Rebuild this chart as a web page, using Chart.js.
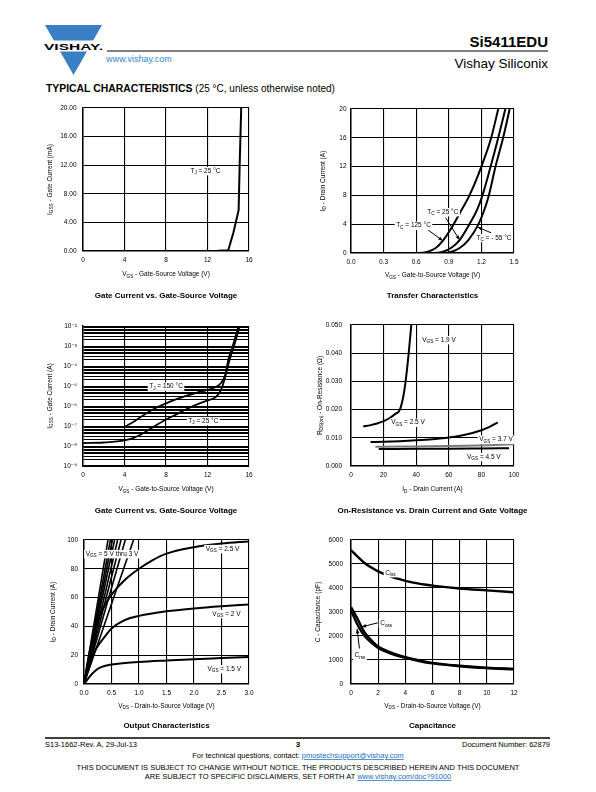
<!DOCTYPE html>
<html><head><meta charset="utf-8">
<script src="https://cdn.jsdelivr.net/npm/chart.js@4.4.0/dist/chart.umd.min.js"></script>
<style>
html,body{margin:0;padding:0;background:#fff}
#page{position:relative;width:596px;height:792px;overflow:hidden;background:#fff}
canvas{position:absolute}
#hdr{position:absolute;left:0;top:0}
</style></head><body><div id="page">
<svg id="hdr" width="596" height="792" font-family="'Liberation Sans', Arial, sans-serif">
  <polygon points="45,25 102,25 73.5,75" fill="#3a7fc5"/>
  <rect x="38" y="40.5" width="70" height="11" fill="#fff"/>
  <text x="44" y="49.5" font-weight="bold" font-size="9.8" textLength="59" lengthAdjust="spacingAndGlyphs">VISHAY.</text>
  <line x1="107" y1="51" x2="548" y2="51" stroke="#000" stroke-width="1"/>
  <text x="548" y="47" text-anchor="end" font-weight="bold" font-size="15">Si5411EDU</text>
  <text x="548" y="67.5" text-anchor="end" font-size="13.5">Vishay Siliconix</text>
  <text x="106" y="62" font-size="9" fill="#2e86cf">www.vishay.com</text>
  <text x="46" y="91.5" font-size="10.4" font-weight="bold">TYPICAL CHARACTERISTICS <tspan font-weight="normal" font-size="10">(25 °C, unless otherwise noted)</tspan></text>
  <line x1="45" y1="738" x2="550" y2="738" stroke="#000" stroke-width="1.5"/>
  <text x="45" y="746.5" font-size="7.5">S13-1662-Rev. A, 29-Jul-13</text>
  <text x="298" y="747" font-size="8" font-weight="bold" text-anchor="middle">3</text>
  <text x="550" y="746.5" font-size="7.5" text-anchor="end">Document Number: 62879</text>
  <text x="298" y="758" font-size="7.5" text-anchor="middle">For technical questions, contact: <tspan fill="#1a6fc0" text-decoration="underline">pmostechsupport@vishay.com</tspan></text>
  <text x="298" y="770" font-size="7.5" text-anchor="middle">THIS DOCUMENT IS SUBJECT TO CHANGE WITHOUT NOTICE. THE PRODUCTS DESCRIBED HEREIN AND THIS DOCUMENT</text>
  <text x="298" y="779" font-size="7.5" text-anchor="middle">ARE SUBJECT TO SPECIFIC DISCLAIMERS, SET FORTH AT <tspan fill="#1a6fc0" text-decoration="underline">www.vishay.com/doc?91000</tspan></text>
</svg>
</div>
<script>
// ================= DATA =================
// 1. Gate Current vs. Gate-Source Voltage (linear, mA)
const gcVgs    = [0, 4, 8, 12, 13, 14, 14.5, 15, 15.1, 15.25];
const gcIgssmA = [0, 0, 0, 0, 0.03, 0.1, 2.6, 5.7, 12, 20];
const gcXTicks = [0, 4, 8, 12, 16];
const gcXLabels = ['0', '4', '8', '12', '16'];
const gcYTicks = [0, 4, 8, 12, 16, 20];
const gcYLabels = ['0.00', '4.00', '8.00', '12.00', '16.00', '20.00'];

// 2. Transfer Characteristics
const tfVgs125 = [0, 0.62, 0.70, 0.78, 0.85, 0.93, 1.00, 1.09, 1.20, 1.29, 1.355];
const tfId125  = [0, 0, 0.15, 0.7, 1.8, 3.6, 5.5, 8, 12, 16, 20];
const tfVgs25  = [0, 0.76, 0.84, 0.92, 1.00, 1.09, 1.16, 1.21, 1.285, 1.355, 1.42];
const tfId25   = [0, 0, 0.15, 0.7, 1.8, 4, 6, 8, 12, 16, 20];
const tfVgsM55 = [0, 0.84, 0.92, 1.00, 1.08, 1.17, 1.225, 1.265, 1.33, 1.40, 1.46];
const tfIdM55  = [0, 0, 0.15, 0.7, 1.8, 3.9, 5.9, 7.8, 12, 16, 20];
const tfXTicks = [0, 0.3, 0.6, 0.9, 1.2, 1.5];
const tfXLabels = ['0.0', '0.3', '0.6', '0.9', '1.2', '1.5'];
const tfYTicks = [0, 4, 8, 12, 16, 20];
const tfYLabels = ['0', '4', '8', '12', '16', '20'];

// 3. Gate Current vs. Gate-Source Voltage (log, A)
const glVgs150 = [4, 5, 6, 7, 8, 9, 10, 11, 12, 12.8, 13.3, 13.7, 14.0, 14.4, 15.0];
const glIgss150 = [8.9e-8, 1.8e-7, 4.0e-7, 7.9e-7, 1.35e-6, 2.2e-6, 3.3e-6, 4.7e-6, 6.3e-6, 8.9e-6, 1.4e-5, 3.5e-5, 2.0e-4, 8.9e-4, 1e-2];
const glVgs25 = [0, 2, 4, 5, 6, 7, 8, 9, 10, 11, 12, 12.8, 13.3, 13.7, 14.1, 14.5, 15.1];
const glIgss25 = [1.4e-8, 1.5e-8, 1.9e-8, 2.7e-8, 5.0e-8, 1.05e-7, 2.1e-7, 3.8e-7, 7.1e-7, 1.2e-6, 1.9e-6, 2.8e-6, 6.3e-6, 2.8e-5, 1.8e-4, 7.9e-4, 1e-2];
const glXTicks = [0, 4, 8, 12, 16];
const glXLabels = ['0', '4', '8', '12', '16'];
const glYDecades = [1e-9, 1e-8, 1e-7, 1e-6, 1e-5, 1e-4, 1e-3, 1e-2];
const glYLabels = ['10\u207B\u2079', '10\u207B\u2078', '10\u207B\u2077', '10\u207B\u2076', '10\u207B\u2075', '10\u207B\u2074', '10\u207B\u00B3', '10\u207B\u00B2'];

// 4. On-Resistance vs. Drain Current and Gate Voltage
const rdsId19 = [7.5, 12, 16, 20, 24, 27, 30.0, 32.2, 33.5, 34.5, 35.4, 36.2, 37.0];
const rds19   = [0.0140, 0.0145, 0.0151, 0.0159, 0.0171, 0.0184, 0.0200, 0.0250, 0.0300, 0.0350, 0.0400, 0.0450, 0.0500];
const rdsId25 = [12, 20, 30, 40, 50, 60, 70, 80, 85, 90];
const rds25   = [0.0085, 0.0086, 0.0088, 0.0091, 0.0095, 0.0101, 0.0111, 0.0127, 0.0139, 0.0155];
const rdsId37 = [15, 30, 50, 70, 85, 100];
const rds37   = [0.0068, 0.0069, 0.0070, 0.0072, 0.0074, 0.0077];
const rdsId45 = [17, 40, 60, 80, 97];
const rds45   = [0.0060, 0.0061, 0.0061, 0.0062, 0.0063];
const rdsXTicks = [0, 20, 40, 60, 80, 100];
const rdsXLabels = ['0', '20', '40', '60', '80', '100'];
const rdsYTicks = [0, 0.01, 0.02, 0.03, 0.04, 0.05];
const rdsYLabels = ['0.000', '0.010', '0.020', '0.030', '0.040', '0.050'];

// 5. Output Characteristics
const out15Vds = [0, 0.1, 0.2, 0.3, 0.5, 0.75, 1.0, 1.5, 2.0, 2.5, 3.0];
const out15Id  = [0, 5, 9, 11.5, 13.5, 14.6, 15.3, 16.3, 17.2, 18.0, 18.8];
const out2Vds  = [0, 0.1, 0.2, 0.3, 0.4, 0.5, 0.75, 1.0, 1.5, 2.0, 2.5, 3.0];
const out2Id   = [0, 13, 23, 29, 34, 38.5, 44.5, 47.3, 50.5, 52.5, 54, 55.2];
const out25Vds = [0, 0.1, 0.2, 0.3, 0.4, 0.5, 0.75, 1.0, 1.25, 1.5, 2.0, 2.5, 3.0];
const out25Id  = [0, 22, 38, 49, 56, 62, 72.5, 80, 86, 90.5, 95, 97.5, 99];
const outHighVdsAt100A = [0.436, 0.48, 0.516, 0.556, 0.611, 0.673, 0.75, 0.9]; // VGS = 5 V thru 3 V
const outXTicks = [0, 0.5, 1.0, 1.5, 2.0, 2.5, 3.0];
const outXLabels = ['0.0', '0.5', '1.0', '1.5', '2.0', '2.5', '3.0'];
const outYTicks = [0, 20, 40, 60, 80, 100];
const outYLabels = ['0', '20', '40', '60', '80', '100'];

// 6. Capacitance
const capVdsIss = [0, 0.5, 1, 1.5, 2, 3, 4, 5, 6, 8, 10, 12];
const capCiss   = [5580, 5300, 5040, 4850, 4690, 4460, 4300, 4180, 4100, 3980, 3900, 3820];
const capVds    = [0, 0.25, 0.5, 0.75, 1, 1.5, 2, 3, 4, 5, 6, 8, 10, 12];
const capCoss   = [3200, 2950, 2700, 2400, 2150, 1820, 1560, 1300, 1120, 990, 880, 760, 680, 630];
const capCrss   = [3050, 2750, 2450, 2200, 2000, 1720, 1500, 1260, 1090, 960, 860, 740, 660, 610];
const capXTicks = [0, 2, 4, 6, 8, 10, 12];
const capXLabels = ['0', '2', '4', '6', '8', '10', '12'];
const capYTicks = [0, 1000, 2000, 3000, 4000, 5000, 6000];
const capYLabels = ['0', '1000', '2000', '3000', '4000', '5000', '6000'];

// ================= DRAWING =================
const FAM = "'Liberation Sans', Arial, 'DejaVu Sans', sans-serif";
const page = document.getElementById('page');

function drawRich(ctx, text, x, y, o) {
  const size = o.size || 6.5;
  const parts = []; const re = /_\{([^}]*)\}/g; let last = 0, m;
  while ((m = re.exec(text))) { if (m.index > last) parts.push({t: text.slice(last, m.index), s: 0}); parts.push({t: m[1], s: 1}); last = re.lastIndex; }
  if (last < text.length) parts.push({t: text.slice(last), s: 0});
  const fontFor = s => (o.bold ? 'bold ' : '') + (s ? size * 0.72 : size) + 'px ' + FAM;
  let w = 0;
  parts.forEach(p => { ctx.font = fontFor(p.s); p.w = ctx.measureText(p.t).width; w += p.w; });
  let sx = o.align === 'left' ? x : o.align === 'right' ? x - w : x - w / 2;
  if (o.bg) { ctx.fillStyle = '#fff'; ctx.fillRect(sx - 1.5, y - size * 0.62, w + 3, size * 1.3); }
  ctx.fillStyle = '#000'; ctx.textBaseline = 'middle'; ctx.textAlign = 'left';
  parts.forEach(p => { ctx.font = fontFor(p.s); ctx.fillText(p.t, sx, y + (p.s ? size * 0.32 : 0)); sx += p.w; });
}

function pluginFor(cfg) {
  return {
    id: 'rich_' + cfg.id,
    afterDatasetsDraw(chart) {
      const ctx = chart.ctx, xs = chart.scales.x, ys = chart.scales.y;
      ctx.save();
      (cfg.arrows || []).forEach(a => {
        const x1 = xs.getPixelForValue(a.from[0]), y1 = ys.getPixelForValue(a.from[1]);
        const x2 = xs.getPixelForValue(a.to[0]), y2 = ys.getPixelForValue(a.to[1]);
        ctx.strokeStyle = '#000'; ctx.lineWidth = 1;
        ctx.beginPath(); ctx.moveTo(x1, y1); ctx.lineTo(x2, y2); ctx.stroke();
        const ang = Math.atan2(y2 - y1, x2 - x1), L = 4.5, W = 1.8;
        ctx.fillStyle = '#000'; ctx.beginPath(); ctx.moveTo(x2, y2);
        ctx.lineTo(x2 - L * Math.cos(ang) + W * Math.sin(ang), y2 - L * Math.sin(ang) - W * Math.cos(ang));
        ctx.lineTo(x2 - L * Math.cos(ang) - W * Math.sin(ang), y2 - L * Math.sin(ang) + W * Math.cos(ang));
        ctx.closePath(); ctx.fill();
      });
      (cfg.labels || []).forEach(l => drawRich(ctx, l.text, xs.getPixelForValue(l.x), ys.getPixelForValue(l.y), {align: l.align || 'center', bg: l.bg !== false}));
      ctx.restore();
    },
    afterDraw(chart) {
      const ctx = chart.ctx, ca = chart.chartArea;
      ctx.save();
      const cx = (ca.left + ca.right) / 2;
      drawRich(ctx, cfg.xTitle, cx, ca.bottom + (cfg.xTitleOff || 23.5), {align: 'center'});
      drawRich(ctx, cfg.title, cx, ca.bottom + (cfg.titleOff || 44.5), {align: 'center', bold: true, size: 8});
      ctx.translate(ca.left - cfg.yTitleOff, (ca.top + ca.bottom) / 2);
      ctx.rotate(-Math.PI / 2);
      drawRich(ctx, cfg.yTitle, 0, 0, {align: 'center'});
      ctx.restore();
    }
  };
}

function axis(opts) {
  const base = {
    grid: {color: '#000', lineWidth: 1.1, drawTicks: false},
    border: {color: '#000', width: 1.5},
    ticks: {color: '#000', font: {family: FAM, size: 6.5}, autoSkip: false, maxRotation: 0, padding: opts.pad,
            callback: opts.cb || ((v, i) => opts.labels[i])},
    afterBuildTicks: s => { s.ticks = opts.ticks.map(v => ({value: v})); },
  };
  return Object.assign(base, opts.extra);
}

function makeChart(cfg) {
  const r = cfg.rect;
  const W = r[2] - r[0] + 64, H = r[3] - r[1] + 62;
  const cv = document.createElement('canvas');
  cv.width = W; cv.height = H;
  cv.style.left = (r[0] - 50) + 'px'; cv.style.top = (r[1] - 10) + 'px';
  cv.style.width = W + 'px'; cv.style.height = H + 'px';
  page.appendChild(cv);
  const x = axis({ticks: cfg.xTicks, labels: cfg.xLabels, pad: 5, extra: {
    type: 'linear', position: 'bottom', min: cfg.xTicks[0], max: cfg.xTicks[cfg.xTicks.length - 1],
    afterFit: s => { s.height = 52; s.paddingLeft = 0; s.paddingRight = 0; }}});
  const y = axis({ticks: cfg.yTicks, labels: cfg.yLabels, cb: cfg.yCb, pad: cfg.yPad, extra: Object.assign({
    type: 'linear', position: 'left', min: cfg.yTicks[0], max: cfg.yTicks[cfg.yTicks.length - 1],
    afterFit: s => { s.width = 50; s.paddingTop = 0; s.paddingBottom = 0; }}, cfg.yExtra || {})});
  if (cfg.yGridWidth) y.grid.lineWidth = cfg.yGridWidth;
  new Chart(cv, {
    type: 'line',
    data: {datasets: cfg.series.map(d => ({
      data: d.x.map((v, i) => ({x: v, y: d.y[i]})),
      borderColor: d.color || '#000', borderWidth: d.width || 2, pointRadius: 0, fill: false,
      cubicInterpolationMode: d.straight ? 'default' : 'monotone', tension: 0
    }))},
    options: {
      responsive: false, animation: false, devicePixelRatio: 1, parsing: true,
      layout: {padding: {left: 0, top: 10, right: 14, bottom: 0}},
      plugins: {legend: {display: false}, tooltip: {enabled: false}, title: {display: false}},
      scales: {x, y}
    },
    plugins: [pluginFor(cfg)]
  });
}

// 1
makeChart({
  id: 1, rect: [83, 108, 249, 251], xTicks: gcXTicks, xLabels: gcXLabels, yTicks: gcYTicks, yLabels: gcYLabels, yPad: 6.5,
  series: [{x: gcVgs, y: gcIgssmA, straight: true, width: 2}],
  labels: [{text: 'T_{J} = 25 °C', x: 11.8, y: 11.2}],
  xTitle: 'V_{GS} - Gate-Source Voltage (V)', yTitle: 'I_{GSS} - Gate Current (mA)', yTitleOff: 33,
  title: 'Gate Current vs. Gate-Source Voltage'
});
// 2
makeChart({
  id: 2, rect: [351, 109, 514, 253], xTicks: tfXTicks, xLabels: tfXLabels, yTicks: tfYTicks, yLabels: tfYLabels, yPad: 4.5,
  series: [{x: tfVgs125, y: tfId125}, {x: tfVgs25, y: tfId25}, {x: tfVgsM55, y: tfIdM55}],
  labels: [{text: 'T_{C} = 25 °C', x: 0.845, y: 5.7}, {text: 'T_{C} = 125 °C', x: 0.575, y: 3.8}, {text: 'T_{C} = - 55 °C', x: 1.316, y: 2.1}],
  arrows: [{from: [0.87, 4.9], to: [1.0, 1.8]}, {from: [0.70, 3.3], to: [0.845, 1.7]}, {from: [1.29, 2.8], to: [1.165, 3.6]}],
  xTitle: 'V_{GS} - Gate-to-Source Voltage (V)', yTitle: 'I_{D} - Drain Current (A)', yTitleOff: 28,
  title: 'Transfer Characteristics', xTitleOff: 22.5, titleOff: 43
});
// 3
const glYAll = [];
glYDecades.forEach((d, k) => { if (k < glYDecades.length - 1) { for (let m = 1; m <= 9; m++) glYAll.push(d * m); } else glYAll.push(d); });
makeChart({
  id: 3, rect: [83, 326, 249, 466], xTicks: glXTicks, xLabels: glXLabels, yTicks: glYAll, yPad: 6,
  yCb: (v) => { const k = glYDecades.findIndex(d => Math.abs(v / d - 1) < 1e-6); return k >= 0 ? glYLabels[k] : ''; },
  yExtra: {type: 'logarithmic', min: 1e-9, max: 1e-2}, yGridWidth: 1,
  series: [{x: glVgs150, y: glIgss150, width: 1.8}, {x: glVgs25, y: glIgss25, width: 1.8}],
  labels: [{text: 'T_{J} = 150 °C', x: 8.0, y: 9.5e-6}, {text: 'T_{J} = 25 °C', x: 11.6, y: 1.8e-7}],
  xTitle: 'V_{GS} - Gate-to-Source Voltage (V)', yTitle: 'I_{GSS} - Gate Current (A)', yTitleOff: 33,
  title: 'Gate Current vs. Gate-Source Voltage'
});
// 4
makeChart({
  id: 4, rect: [351, 325, 514, 466], xTicks: rdsXTicks, xLabels: rdsXLabels, yTicks: rdsYTicks, yLabels: rdsYLabels, yPad: 9,
  series: [{x: rdsId19, y: rds19}, {x: rdsId25, y: rds25}, {x: rdsId37, y: rds37, color: '#7a7a7a'}, {x: rdsId45, y: rds45}],
  labels: [{text: 'V_{GS} = 1.9 V', x: 54, y: 0.0447}, {text: 'V_{GS} = 2.5 V', x: 35, y: 0.0154},
           {text: 'V_{GS} = 3.7 V', x: 89, y: 0.0094}, {text: 'V_{GS} = 4.5 V', x: 81.5, y: 0.0032}],
  xTitle: 'I_{D} - Drain Current (A)', yTitle: 'R_{DS(on)} - On-Resistance (\u03A9)', yTitleOff: 31,
  title: 'On-Resistance vs. Drain Current and Gate Voltage'
});
// 5
makeChart({
  id: 5, rect: [84, 540, 249, 684], xTicks: outXTicks, xLabels: outXLabels, yTicks: outYTicks, yLabels: outYLabels, yPad: 6,
  series: outHighVdsAt100A.map(v => ({x: [0, v], y: [0, 100], straight: true, width: 1.6}))
    .concat([{x: out25Vds, y: out25Id}, {x: out2Vds, y: out2Id}, {x: out15Vds, y: out15Id}]),
  labels: [{text: 'V_{GS} = 5 V thru 3 V', x: 0.51, y: 90.3}, {text: 'V_{GS} = 2.5 V', x: 2.52, y: 93.8},
           {text: 'V_{GS} = 2 V', x: 2.59, y: 48.7}, {text: 'V_{GS} = 1.5 V', x: 2.55, y: 10.4}],
  xTitle: 'V_{DS} - Drain-to-Source Voltage (V)', yTitle: 'I_{D} - Drain Current (A)', yTitleOff: 31,
  title: 'Output Characteristics', xTitleOff: 22, titleOff: 41.5
});
// 6
makeChart({
  id: 6, rect: [351, 540, 514, 684], xTicks: capXTicks, xLabels: capXLabels, yTicks: capYTicks, yLabels: capYLabels, yPad: 8,
  series: [{x: capVdsIss, y: capCiss, width: 2.4}, {x: capVds, y: capCoss, width: 2.4}, {x: capVds, y: capCrss, width: 2.4}],
  labels: [{text: 'C_{iss}', x: 2.9, y: 4625}, {text: 'C_{oss}', x: 2.15, y: 2530, align: 'left'}, {text: 'C_{rss}', x: 0.66, y: 1180}],
  arrows: [{from: [2.05, 2560], to: [0.78, 2380]}, {from: [0.62, 1480], to: [0.45, 2300]}],
  xTitle: 'V_{DS} - Drain-to-Source Voltage (V)', yTitle: 'C - Capacitance (pF)', yTitleOff: 33,
  title: 'Capacitance', xTitleOff: 22, titleOff: 41.5
});
</script></body></html>
